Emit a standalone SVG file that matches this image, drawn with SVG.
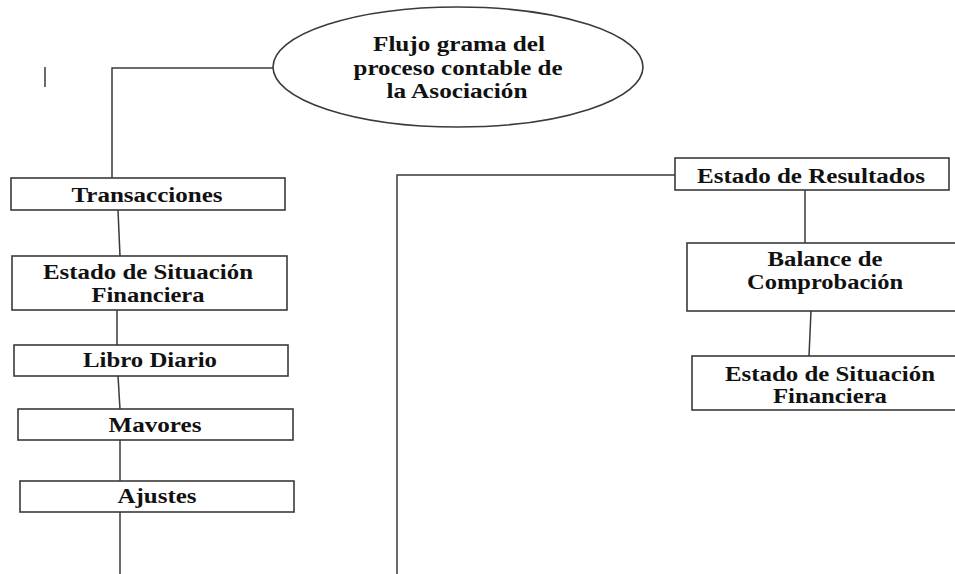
<svg xmlns="http://www.w3.org/2000/svg" width="955" height="574" viewBox="0 0 955 574">
<style>
.box{fill:#fff;stroke:#3a3a3a;stroke-width:1.6}
.ln{fill:none;stroke:#3a3a3a;stroke-width:1.5}
.t{font-family:"Liberation Serif","Times New Roman",serif;font-weight:bold;font-size:20px;fill:#111;text-anchor:middle}
</style>
<rect width="955" height="574" fill="#fff"/>
<g id="connectors">
<line class="ln" x1="45" y1="67" x2="45" y2="87"/>
<polyline class="ln" points="273,68 112,68 112,178"/>
<line class="ln" x1="118" y1="210" x2="120" y2="256"/>
<line class="ln" x1="117" y1="310" x2="117" y2="345"/>
<line class="ln" x1="118" y1="376" x2="120" y2="409"/>
<line class="ln" x1="120" y1="440" x2="120" y2="481"/>
<line class="ln" x1="120" y1="512" x2="120" y2="574"/>
<polyline class="ln" points="675,175 397,175 397,574"/>
<line class="ln" x1="805" y1="190" x2="805" y2="243"/>
<line class="ln" x1="811" y1="311" x2="809" y2="356"/>
</g>
<g id="title">
<ellipse cx="458" cy="67" rx="185" ry="60" fill="#fff" stroke="#3a3a3a" stroke-width="1.6"/>
<text class="t" x="459" y="51" textLength="172" lengthAdjust="spacingAndGlyphs">Flujo grama del</text>
<text class="t" x="458" y="75" textLength="209" lengthAdjust="spacingAndGlyphs">proceso contable de</text>
<text class="t" x="457" y="98" textLength="141" lengthAdjust="spacingAndGlyphs">la Asociación</text>
</g>
<g id="transacciones">
<rect class="box" x="11" y="178" width="274" height="32"/>
<text class="t" x="147" y="202" textLength="151" lengthAdjust="spacingAndGlyphs">Transacciones</text>
</g>
<g id="esf-left">
<rect class="box" x="12" y="256" width="275" height="54"/>
<text class="t" x="148" y="279" textLength="210" lengthAdjust="spacingAndGlyphs">Estado de Situación</text>
<text class="t" x="148" y="302" textLength="113" lengthAdjust="spacingAndGlyphs">Financiera</text>
</g>
<g id="libro-diario">
<rect class="box" x="14" y="345" width="274" height="31"/>
<text class="t" x="150" y="367" textLength="134" lengthAdjust="spacingAndGlyphs">Libro Diario</text>
</g>
<g id="mavores">
<rect class="box" x="18" y="409" width="275" height="31"/>
<text class="t" x="155" y="432" textLength="93" lengthAdjust="spacingAndGlyphs">Mavores</text>
</g>
<g id="ajustes">
<rect class="box" x="20" y="481" width="274" height="31"/>
<text class="t" x="157" y="503" textLength="79" lengthAdjust="spacingAndGlyphs">Ajustes</text>
</g>
<g id="estado-resultados">
<rect class="box" x="675" y="158" width="274" height="32"/>
<text class="t" x="811" y="183" textLength="228" lengthAdjust="spacingAndGlyphs">Estado de Resultados</text>
</g>
<g id="balance">
<rect class="box" x="687" y="243" width="276" height="68"/>
<text class="t" x="825" y="266" textLength="115" lengthAdjust="spacingAndGlyphs">Balance de</text>
<text class="t" x="825" y="289" textLength="156" lengthAdjust="spacingAndGlyphs">Comprobación</text>
</g>
<g id="esf-right">
<rect class="box" x="692" y="356" width="276" height="54"/>
<text class="t" x="830" y="381" textLength="210" lengthAdjust="spacingAndGlyphs">Estado de Situación</text>
<text class="t" x="830" y="403" textLength="114" lengthAdjust="spacingAndGlyphs">Financiera</text>
</g>
</svg>
